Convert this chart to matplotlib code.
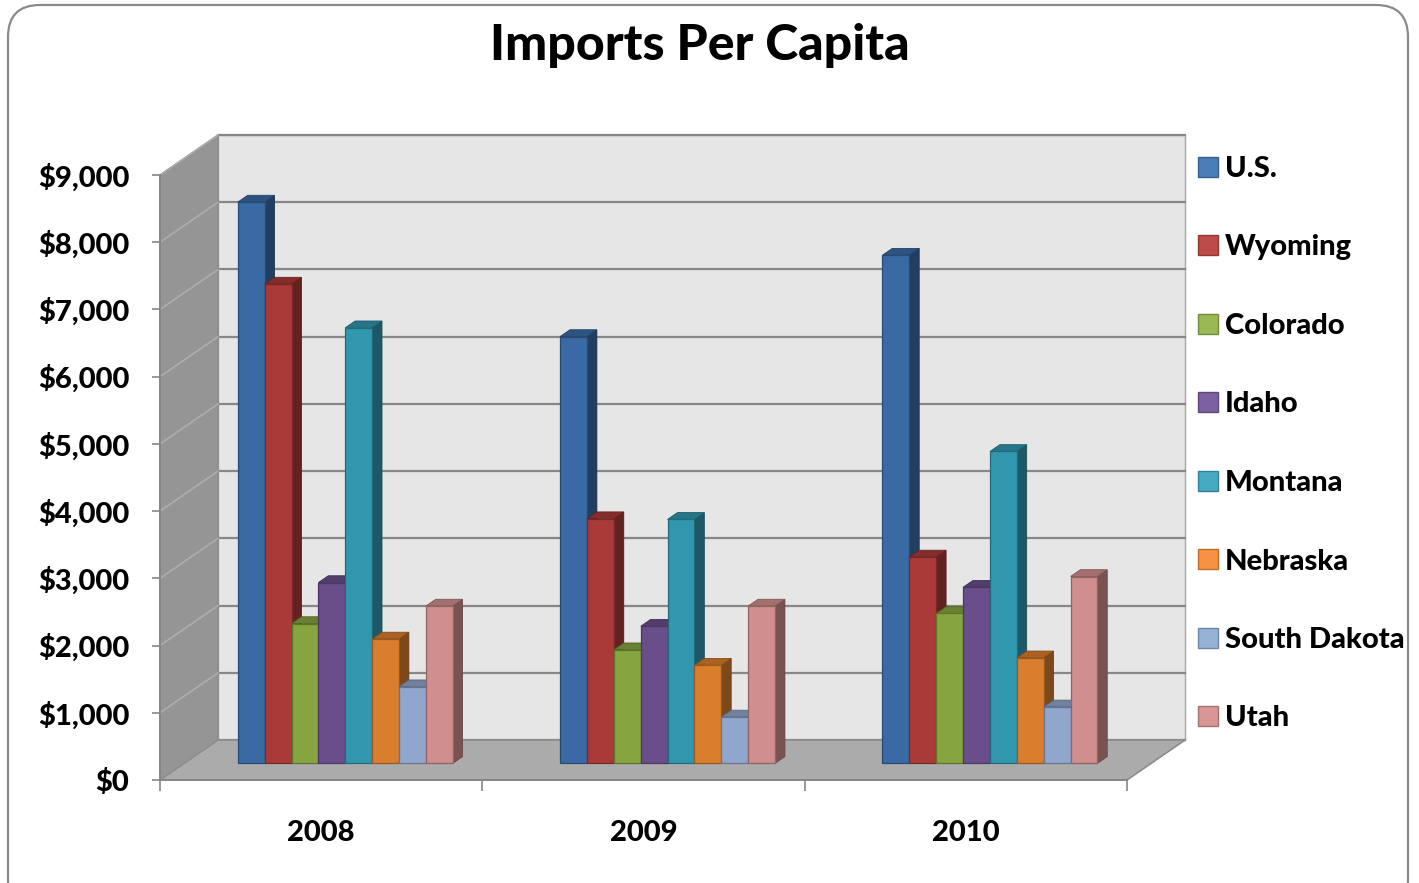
import matplotlib.pyplot as plt
from matplotlib.patches import Polygon, Rectangle, FancyBboxPatch
from matplotlib.ticker import FuncFormatter
import matplotlib.colors as mcolors

plt.rcParams['font.family'] = ['Lato', 'DejaVu Sans']
plt.rcParams['font.weight'] = 900

years = ['2008', '2009', '2010']
states = ['U.S.', 'Wyoming', 'Colorado', 'Idaho', 'Montana', 'Nebraska',
          'South Dakota', 'Utah']

# imports per capita, one value per year
us = [8350, 6350, 7560]
wyoming = [7130, 3640, 3070]
colorado = [2080, 1690, 2230]
idaho = [2690, 2040, 2620]
montana = [6480, 3630, 4640]
nebraska = [1850, 1460, 1570]
south_dakota = [1140, 690, 840]
utah = [2340, 2340, 2780]
series = [us, wyoming, colorado, idaho, montana, nebraska, south_dakota, utah]

front_colors = ['#3A6AA4', '#A93A37', '#86A43F', '#6A4E8C',
                '#3197AF', '#DA7E2D', '#91A6CD', '#D18E8E']
legend_colors = ['#4A7EBB', '#BE4B48', '#98B954', '#7D60A0',
                 '#46AAC5', '#F69240', '#95B3D7', '#D99694']


def shade(c, f):
    r, g, b = mcolors.to_rgb(c)
    return (r * f, g * f, b * f)


W, H = 1419, 883
fig = plt.figure(figsize=(W / 100, H / 100), dpi=100)
ax = fig.add_axes([160 / W, (H - 780) / H, (1127 - 160) / W, (780 - 175) / H])
ax.set_xlim(0, 3)
ax.set_ylim(0, 9000)
ax.patch.set_visible(False)

# depth of the 3d box in data units
DX = 58 / 322
DY = 40 * 9000 / 605

# walls and floor
ax.add_patch(Rectangle((DX, DY), 3, 9000, fc='#E6E6E6', ec='#A6A6A6', lw=1,
                       zorder=0, clip_on=False))
ax.add_patch(Polygon([(0, 0), (DX, DY), (DX, 9000 + DY), (0, 9000)],
                     fc='#959595', ec='#8A8A8A', lw=1, zorder=0, clip_on=False))
for v in range(0, 10000, 1000):
    ax.plot([DX, 3 + DX], [v + DY, v + DY], color='#878787', lw=1.6,
            zorder=1, clip_on=False)
    ax.plot([0, DX], [v, v + DY], color='#ADADAD', lw=1.2, zorder=1,
            clip_on=False)
ax.add_patch(Polygon([(0, 0), (3, 0), (3 + DX, DY), (DX, DY)],
                     fc='#ABABAB', ec='#8C8C8C', lw=1.2, zorder=2, clip_on=False))

# columns with front, side and top faces
bw = 1 / 12
d0 = 0.415
bdx, bdy = 0.17 * DX, 0.17 * DY
z = 3
for j in range(len(years)):
    for i, vals in enumerate(series):
        v = vals[j]
        x0 = j + 0.5 - 4 * bw + i * bw + d0 * DX
        y0 = d0 * DY
        c = front_colors[i]
        side = [(x0 + bw, y0), (x0 + bw + bdx, y0 + bdy),
                (x0 + bw + bdx, y0 + v + bdy), (x0 + bw, y0 + v)]
        top = [(x0, y0 + v), (x0 + bw, y0 + v),
               (x0 + bw + bdx, y0 + v + bdy), (x0 + bdx, y0 + v + bdy)]
        ax.add_patch(Polygon(side, fc=shade(c, 0.58), ec=shade(c, 0.5), lw=0.6,
                             zorder=z, clip_on=False))
        ax.add_patch(Polygon(top, fc=shade(c, 0.78), ec=shade(c, 0.6), lw=0.6,
                             zorder=z, clip_on=False))
        ax.add_patch(Rectangle((x0, y0), bw, v, fc=c, ec=shade(c, 0.7), lw=0.9,
                               zorder=z + 0.5, clip_on=False))
        z += 1

# axes, ticks and labels
for s in ['top', 'right']:
    ax.spines[s].set_visible(False)
for s in ['left', 'bottom']:
    ax.spines[s].set_color('#868686')
    ax.spines[s].set_linewidth(1.4)
    ax.spines[s].set_zorder(2.5)

ax.set_yticks(range(0, 10000, 1000))
ax.yaxis.set_major_formatter(FuncFormatter(lambda v, p: f'${v:,.0f}'))
ax.tick_params(axis='y', length=6, width=1.2, color='#868686', pad=16,
               labelsize=21)
ax.set_xticks([0, 1, 2, 3])
ax.set_xticklabels([])
ax.set_xticks([0.5, 1.5, 2.5], minor=True)
ax.set_xticklabels(years, minor=True)
ax.tick_params(axis='x', which='major', length=8, width=1.2, color='#868686')
ax.tick_params(axis='x', which='minor', length=0, pad=29, labelsize=21)

fig.text(699.5 / W, (H - 46) / H, 'Imports Per Capita', ha='center',
         va='center', fontsize=36, fontweight=900)

handles = [Rectangle((0, 0), 1, 1, fc=c, ec=shade(c, 0.75), lw=1)
           for c in legend_colors]
fig.legend(handles, states, loc='upper left',
           bbox_to_anchor=(1198 / W, (H - 156) / H), frameon=False,
           fontsize=21, handlelength=0.69, handleheight=0.69,
           handletextpad=0.22, labelspacing=1.80, borderpad=0,
           borderaxespad=0)

fig.add_artist(FancyBboxPatch((0.08, -0.3), 14.0, 9.08,
                              boxstyle='round,pad=0,rounding_size=0.32',
                              transform=fig.dpi_scale_trans, fc='none',
                              ec='#8A8A8A', lw=1.6))

fig.savefig('out.png', dpi=100)
